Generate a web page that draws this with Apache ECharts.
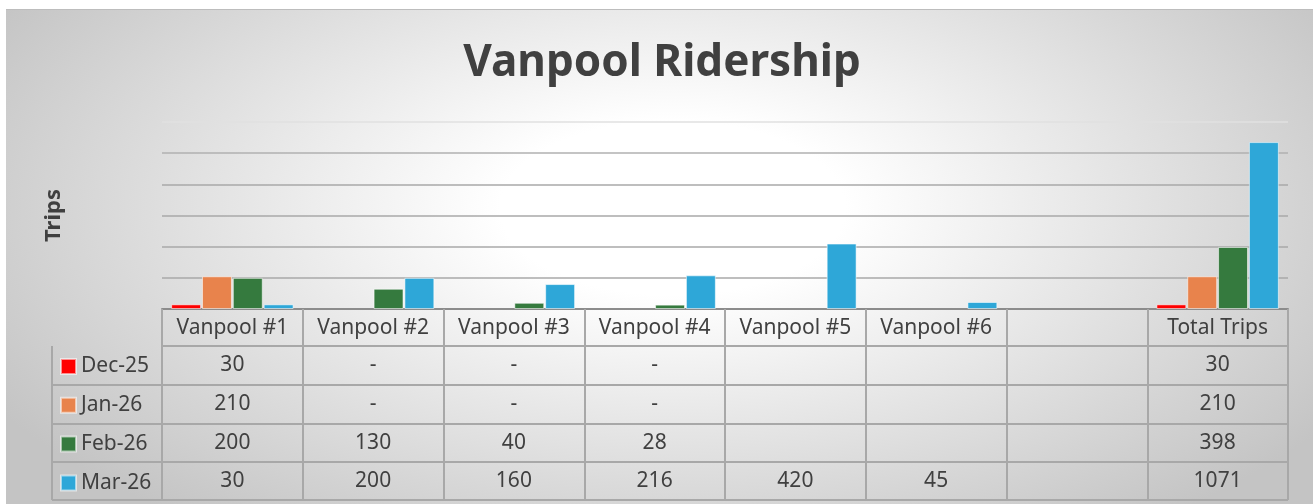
<!DOCTYPE html>
<html>
<head>
<meta charset="utf-8">
<script src="https://cdn.jsdelivr.net/npm/echarts@6/dist/echarts.min.js"></script>
<style>
  html, body { margin: 0; padding: 0; background: #ffffff; }
  #panel {
    position: absolute; left: 6px; top: 9px; width: 1307px; height: 495px;
    border-top: 1px solid #bdbdbd;
    background: radial-gradient(ellipse 60% 80% at 51% 40%, #ffffff 0%, #ffffff 22%, #c4c4c4 100%);
  }
  #chart { position: absolute; left: 0; top: 0; width: 1313px; height: 504px; }
</style>
</head>
<body>
<div id="panel"></div>
<div id="chart"></div>
<script>
// categories of the data table / x axis
const categories = ['Vanpool #1', 'Vanpool #2', 'Vanpool #3', 'Vanpool #4', 'Vanpool #5', 'Vanpool #6', '', 'Total Trips'];
// monthly trips (0 shows as "-", null is an empty cell)
const dec25 = [30, 0, 0, 0, null, null, null, 30];
const jan26 = [210, 0, 0, 0, null, null, null, 210];
const feb26 = [200, 130, 40, 28, null, null, null, 398];
const mar26 = [30, 200, 160, 216, 420, 45, null, 1071];
const monthNames = ['Dec-25', 'Jan-26', 'Feb-26', 'Mar-26'];
const monthColors = ['#ff0000', '#e8834c', '#357a3e', '#2ea7d8'];
const yTicks = { min: 0, max: 1200, interval: 200 };

const rows = [dec25, jan26, feb26, mar26];
const textColor = '#404040';
const lineColor = '#a8a8a8';
const font = 'Noto Sans';
const tableFontSize = 21;

// offsets (px below the x axis) of header / row text centres and row borders
const headerMid = 19;
const rowMid = [56, 95, 134, 172];
const rowLines = [37, 76, 115, 153, 191];

function cellText(v) {
  if (v === null || v === undefined) return '';
  if (v === 0) return '-';
  return String(v);
}

const chart = echarts.init(document.getElementById('chart'));

const xAxes = [{
  type: 'category',
  data: categories,
  position: 'bottom',
  axisLine: { show: true, lineStyle: { color: '#8c8c8c', width: 2 } },
  axisTick: { show: true, length: 191, lineStyle: { color: lineColor, width: 2 } },
  axisLabel: {
    interval: 0, margin: headerMid, verticalAlign: 'middle',
    color: textColor, fontFamily: font, fontSize: tableFontSize
  }
}];
rows.forEach((r, i) => {
  xAxes.push({
    type: 'category',
    data: categories,
    position: 'bottom',
    offset: rowMid[i],
    axisLine: { show: false },
    axisTick: { show: false },
    axisLabel: {
      interval: 0, margin: 0, verticalAlign: 'middle',
      color: textColor, fontFamily: font, fontSize: tableFontSize,
      formatter: (val, idx) => cellText(r[idx])
    }
  });
});

const option = {
  animation: false,
  textStyle: { fontFamily: font },
  title: {
    text: 'Vanpool Ridership',
    left: 657,
    top: 36,
    textAlign: 'center',
    textStyle: { color: textColor, fontSize: 44, fontWeight: 'bold', fontFamily: font }
  },
  legend: {
    orient: 'vertical',
    left: 60,
    top: 356,
    padding: 0,
    icon: 'rect',
    itemWidth: 15,
    itemHeight: 15,
    itemGap: 17.8,
    textStyle: { color: textColor, fontSize: tableFontSize, fontFamily: font },
    data: monthNames
  },
  grid: { left: 162, right: 25, top: 122, bottom: 195 },
  xAxis: xAxes,
  yAxis: {
    type: 'value',
    min: yTicks.min, max: yTicks.max, interval: yTicks.interval,
    name: 'Trips',
    nameLocation: 'middle',
    nameRotate: 90,
    nameGap: 97,
    nameTextStyle: { color: textColor, fontSize: 22, fontWeight: 'bold', fontFamily: font },
    axisLine: { show: false },
    axisTick: { show: false },
    axisLabel: { show: false },
    splitLine: { lineStyle: { color: ['#a8a8a8', '#a8a8a8', '#a8a8a8', '#a8a8a8', '#a8a8a8', '#b0b0b0', '#e0e0e0'], width: 1.5 } }
  },
  series: rows.map((r, i) => ({
    name: monthNames[i],
    type: 'bar',
    data: r.map(v => (v ? v : '-')),
    barGap: '3%',
    barCategoryGap: '13%',
    itemStyle: { color: monthColors[i], borderColor: 'rgba(255,255,255,0.55)', borderWidth: 1 }
  }))
};
chart.setOption(option);

// table borders: horizontal row lines placed from the x axis position
const x0 = chart.convertToPixel({ xAxisIndex: 0 }, 0);
const x1 = chart.convertToPixel({ xAxisIndex: 0 }, 1);
const band = x1 - x0;
const tableLeft = x0 - band / 2;
const tableRight = chart.convertToPixel({ xAxisIndex: 0 }, categories.length - 1) + band / 2;
const axisY = chart.convertToPixel({ yAxisIndex: 0 }, 0);
const legendLeft = 52;
const graphics = [];
rowLines.forEach((off, i) => {
  graphics.push({
    type: 'line', silent: true,
    shape: { x1: i === 0 ? tableLeft : legendLeft, y1: axisY + off, x2: tableRight, y2: axisY + off },
    style: { stroke: lineColor, lineWidth: 2 }
  });
});
graphics.push({
  type: 'line', silent: true,
  shape: { x1: legendLeft, y1: axisY + rowLines[0], x2: legendLeft, y2: axisY + rowLines[rowLines.length - 1] },
  style: { stroke: lineColor, lineWidth: 2 }
});
chart.setOption({ graphic: graphics });
</script>
</body>
</html>
